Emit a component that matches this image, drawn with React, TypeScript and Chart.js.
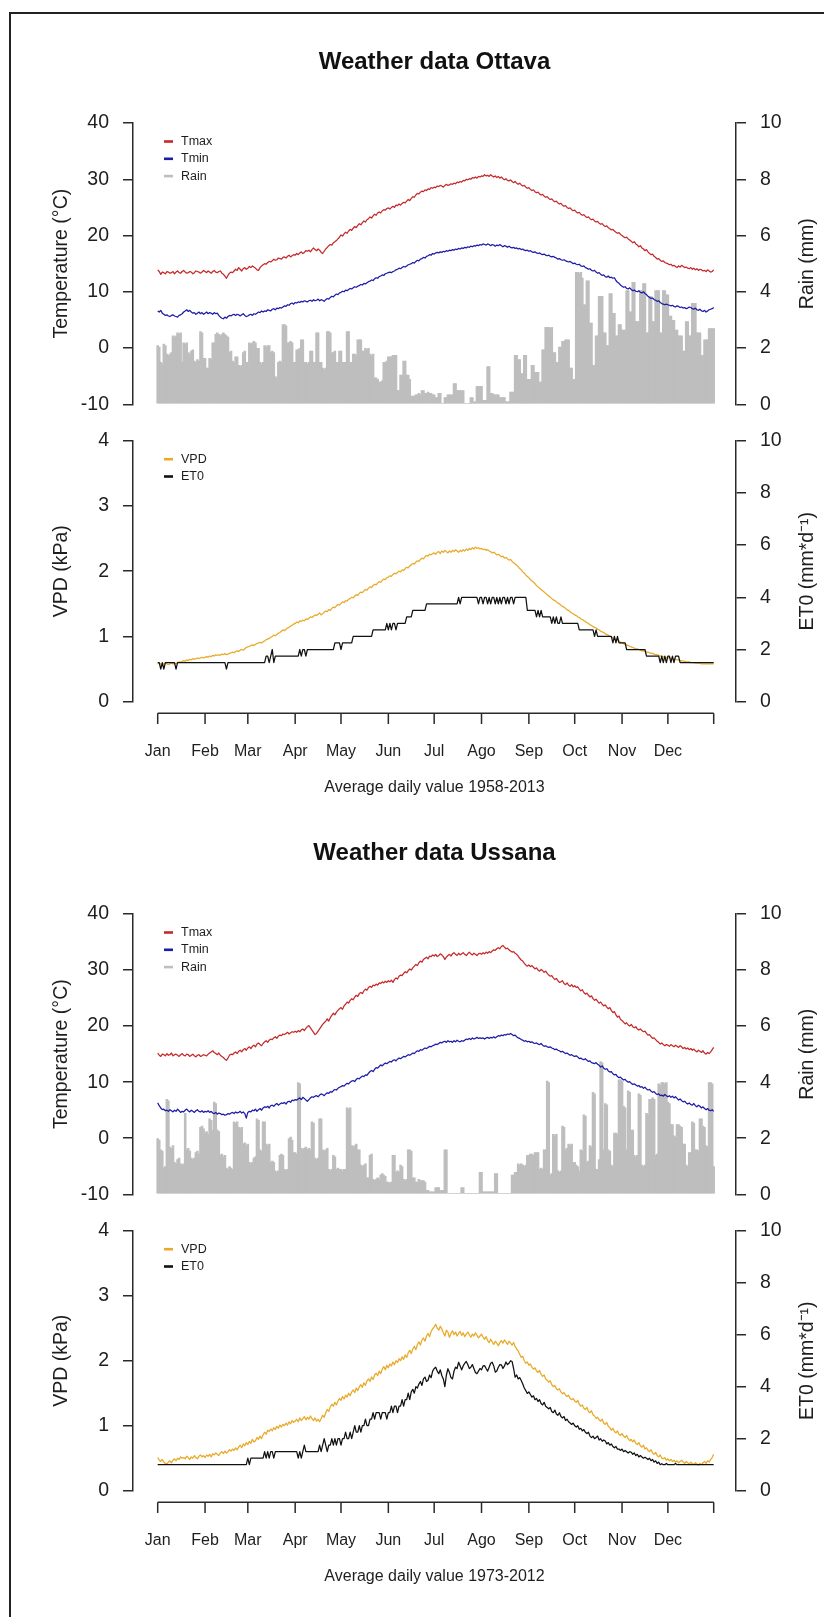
import React, { useEffect, useRef } from 'react';
import { Chart, registerables } from 'chart.js';
Chart.register(...registerables);

const FONT = "'Liberation Sans', Arial, Helvetica, sans-serif";

// ---------- categories / ticks ----------
const DAYS = Array.from({ length: 365 }, (_, i) => i + 1);
const MONTH_TICKS = [1, 32, 60, 91, 121, 152, 182, 213, 244, 274, 305, 335, 365];
const MONTH_LABELS = ['Jan', 'Feb', 'Mar', 'Apr', 'May', 'Jun', 'Jul', 'Ago', 'Sep', 'Oct', 'Nov', 'Dec', ''];
const TEMP_TICKS = [-10, 0, 10, 20, 30, 40];
const RAIN_TICKS = [0, 2, 4, 6, 8, 10];
const VPD_TICKS = [0, 1, 2, 3, 4];
const ET0_TICKS = [0, 2, 4, 6, 8, 10];

// ---------- Ottava ----------
const OTT_TMAX = [
  13.9,13.6,13.1,13.5,13.4,13.2,13.6,13.5,13.3,13.4,13.6,13.2,13.5,13.7,13.4,13.3,13.6,13.8,13.5,13.3,13.4,13.6,13.5,13.2,13.4,13.7,13.6,13.5,13.3,13.5,13.8,
  13.6,13.4,13.7,13.5,13.3,13.6,13.8,13.5,13.4,13.6,13.7,13.3,13.1,12.8,12.4,12.9,13.3,13.5,13.4,13.7,14.0,13.8,14.3,14.0,13.7,14.1,14.3,14.0,
  14.2,14.5,14.3,14.6,14.4,14.2,13.9,13.8,14.3,14.6,14.8,15.0,14.9,15.2,15.4,15.3,15.5,15.8,15.6,15.7,16.0,15.9,15.8,16.1,16.2,16.0,16.3,16.5,16.2,16.4,16.6,
  16.5,16.8,16.6,16.9,17.1,16.8,17.0,17.3,17.2,17.4,17.1,17.5,17.8,17.5,17.3,17.6,17.4,17.0,16.8,17.2,17.6,17.9,18.2,18.4,18.3,18.7,18.9,19.1,19.4,19.7,
  20.1,19.9,20.3,20.6,20.4,20.8,21.1,20.9,21.3,21.6,21.4,21.8,22.1,21.9,22.3,22.6,22.4,22.8,23.0,23.3,23.1,23.5,23.8,23.6,24.0,24.2,24.0,24.4,24.6,24.5,24.8,
  24.9,24.7,25.0,25.2,25.0,25.4,25.3,25.6,25.4,25.7,25.9,25.8,26.1,26.4,26.2,26.6,26.9,26.8,27.2,27.5,27.4,27.7,27.9,27.8,28.1,28.0,28.3,28.2,28.5,28.4,
  28.6,28.5,28.8,28.7,28.9,28.8,28.6,28.9,29.1,28.9,29.0,29.2,29.1,29.3,29.2,29.5,29.4,29.6,29.5,29.8,29.7,30.0,29.9,30.1,30.0,30.3,30.2,30.4,30.2,30.5,30.4,
  30.6,30.5,30.8,30.6,30.7,30.5,30.8,30.6,30.4,30.6,30.3,30.5,30.2,30.4,30.1,29.9,30.1,29.8,29.7,29.9,29.6,29.4,29.6,29.3,29.1,29.3,29.0,28.8,28.9,28.6,28.4,
  28.5,28.2,28.0,28.1,27.8,27.6,27.7,27.4,27.2,27.3,27.0,26.8,26.9,26.6,26.4,26.5,26.2,26.0,26.1,25.8,25.6,25.7,25.4,25.2,25.3,25.0,24.8,24.9,24.6,24.4,
  24.5,24.2,24.0,24.1,23.8,23.6,23.7,23.4,23.2,23.3,23.0,22.8,22.9,22.6,22.4,22.5,22.2,22.0,22.1,21.8,21.6,21.7,21.4,21.2,21.0,21.1,20.8,20.6,20.4,20.5,20.2,
  20.0,19.8,19.6,19.7,19.4,19.2,19.0,18.7,18.9,18.5,18.3,18.0,18.2,17.8,17.6,17.3,17.5,17.1,16.8,16.6,16.7,16.3,16.1,15.8,15.9,15.6,15.4,15.5,15.2,15.1,
  15.0,14.8,14.9,14.6,14.7,14.5,14.3,14.6,14.4,14.7,14.5,14.3,14.4,14.2,14.1,14.3,14.0,14.2,13.9,14.1,13.8,14.0,13.9,13.7,13.8,13.6,13.9,13.7,13.5,13.6,13.9,
];
const OTT_TMIN = [
  6.6,6.4,6.7,6.2,6.0,5.8,5.9,5.7,5.6,5.8,5.9,5.7,5.6,5.5,5.8,5.9,6.1,6.4,6.6,6.8,6.5,6.7,6.4,6.2,6.3,6.0,6.2,6.4,6.1,6.3,6.0,
  6.2,6.4,6.1,6.3,6.2,6.0,6.3,6.1,6.2,5.8,5.5,5.3,5.2,5.5,5.3,5.6,5.8,5.7,5.9,6.0,5.8,6.0,5.9,5.7,5.9,6.1,5.8,5.6,
  5.7,5.9,6.0,5.8,6.1,6.0,6.2,6.4,6.3,6.6,6.4,6.6,6.5,6.8,6.7,6.6,6.9,7.0,6.8,7.1,7.0,7.2,7.1,7.3,7.5,7.4,7.7,7.6,7.9,8.0,7.8,
  8.1,8.0,8.2,8.1,8.3,8.2,8.4,8.3,8.2,8.4,8.5,8.3,8.6,8.4,8.5,8.7,8.4,8.6,8.5,8.3,8.6,8.8,8.7,9.0,9.2,9.1,9.4,9.6,9.5,9.8,
  9.9,10.1,10.0,10.3,10.2,10.4,10.6,10.5,10.7,10.9,10.8,11.0,11.1,11.3,11.2,11.5,11.4,11.6,11.8,11.9,12.1,12.0,12.3,12.5,12.4,12.7,12.8,13.0,12.9,13.2,13.3,
  13.4,13.5,13.4,13.6,13.7,13.9,14.0,14.2,14.1,14.3,14.5,14.4,14.6,14.8,14.9,15.0,15.2,15.1,15.4,15.6,15.5,15.8,15.9,16.1,16.0,16.3,16.4,16.6,16.5,16.8,
  16.7,16.9,17.0,16.9,17.1,17.0,17.2,17.1,17.3,17.2,17.4,17.3,17.5,17.4,17.6,17.5,17.7,17.6,17.8,17.7,17.9,17.8,18.0,17.9,18.1,18.0,18.2,18.1,18.3,18.2,18.4,
  18.3,18.5,18.4,18.3,18.5,18.4,18.2,18.4,18.3,18.1,18.3,18.2,18.4,18.2,18.0,18.2,18.1,17.9,18.1,17.9,17.8,17.9,17.7,17.8,17.6,17.7,17.5,17.6,17.4,17.3,17.4,
  17.2,17.3,17.1,17.0,17.1,16.9,16.8,16.9,16.7,16.6,16.7,16.5,16.4,16.5,16.3,16.2,16.3,16.1,16.0,15.8,15.9,15.7,15.6,15.7,15.5,15.4,15.3,15.4,15.2,15.0,
  15.1,14.9,14.8,14.9,14.6,14.5,14.6,14.3,14.2,14.0,14.1,13.8,13.7,13.8,13.5,13.3,13.4,13.1,12.9,13.0,12.7,12.6,12.8,12.5,12.6,12.4,12.5,12.0,11.7,11.5,11.2,
  11.0,10.8,10.9,10.6,10.5,10.7,10.4,10.2,10.3,10.1,10.0,10.2,9.9,9.8,10.0,9.7,9.5,9.2,9.0,8.8,8.9,8.6,8.5,8.3,8.4,8.1,7.9,7.8,7.7,7.8,
  7.7,7.6,7.5,7.6,7.4,7.3,7.5,7.4,7.2,7.3,7.1,7.2,7.0,7.1,7.3,7.2,7.0,6.9,7.1,6.8,6.7,6.9,6.6,6.5,6.7,6.4,6.6,6.8,6.9,7.0,7.2,
];
const OTT_RAIN = [
  2.1,2.05,1.5,1.45,2.15,2.1,1.8,1.75,1.8,1.85,2.45,2.4,2.45,2.55,2.5,2.55,1.5,2.2,2.15,2.2,1.85,1.8,1.9,1.95,1.55,1.5,1.6,1.55,2.6,2.55,1.65,
  1.65,1.3,1.3,1.65,1.6,2.2,2.2,2.5,2.55,2.5,2.45,2.5,2.55,2.5,2.45,2.4,1.85,1.9,1.55,1.5,1.7,1.7,1.4,1.35,1.4,1.85,1.9,1.5,
  1.5,2.2,2.15,2.2,2.25,2.2,2.0,2.0,1.5,1.45,1.5,2.1,2.05,2.1,2.1,1.85,1.9,1.85,1.0,0.95,1.5,1.55,1.5,2.85,2.85,2.8,2.2,2.2,2.25,2.2,1.5,
  1.5,1.95,1.95,2.0,2.3,2.3,1.5,1.5,1.45,1.5,1.9,1.9,1.5,1.5,2.55,2.55,1.5,1.5,1.3,1.25,1.3,2.6,2.6,2.55,1.85,1.85,1.9,1.5,1.5,1.9,
  1.9,1.5,1.5,1.5,2.6,2.6,1.5,1.5,1.8,1.8,1.75,2.3,2.3,2.3,1.9,1.9,2.0,1.95,2.0,1.8,1.75,1.8,0.95,0.95,0.9,0.8,0.8,0.85,1.5,1.5,1.55,
  1.7,1.7,1.7,1.75,1.75,1.75,0.5,0.5,1.05,1.05,1.55,1.55,1.05,1.05,0.9,0.3,0.3,0.3,0.35,0.35,0.4,0.35,0.5,0.5,0.4,0.4,0.45,0.4,0.4,0.35,
  0.35,0.25,0.25,0.4,0.4,0.05,0.05,0.25,0.25,0.35,0.35,0.35,0.35,0.75,0.75,0.5,0.5,0.5,0.5,0.5,0.05,0.05,0.05,0.05,0.25,0.25,0.1,0.1,0.65,0.65,0.65,
  0.65,0.15,0.15,0.15,1.35,1.35,0.4,0.4,0.35,0.35,0.35,0.35,0.25,0.25,0.25,0.25,0.1,0.1,0.1,0.45,0.45,0.45,1.75,1.75,1.6,1.6,1.1,1.1,1.75,1.75,0.9,
  0.9,0.9,1.4,1.4,1.15,1.15,1.15,0.8,0.8,1.95,1.95,2.75,2.75,2.75,2.7,2.75,1.85,1.85,1.5,1.5,2.05,2.05,2.25,2.25,2.3,2.3,2.3,1.3,1.3,0.9,
  0.9,4.7,4.7,4.65,4.7,4.5,3.55,3.55,4.4,4.4,2.9,2.9,1.4,1.4,2.45,2.45,3.85,3.85,3.85,2.55,2.55,2.1,2.1,3.95,3.95,3.25,3.25,2.45,2.45,2.85,2.85,
  2.65,2.65,2.65,4.05,4.05,3.3,3.3,4.35,4.35,2.95,2.95,2.95,4.05,4.05,4.3,4.3,2.55,2.55,3.85,3.85,2.95,2.95,4.05,4.05,4.05,2.55,2.55,4.05,4.05,3.9,
  3.9,3.15,3.15,3.0,3.0,2.65,2.65,2.45,2.45,2.45,1.9,1.9,2.95,2.95,2.45,2.45,3.6,3.6,3.6,2.55,2.55,2.55,1.75,1.75,2.3,2.3,2.3,2.7,2.7,2.7,2.7,
];
const OTT_VPD = [
  0.58,0.59,0.58,0.57,0.58,0.59,0.58,0.57,0.58,0.59,0.58,0.59,0.58,0.60,0.61,0.60,0.62,0.63,0.62,0.64,0.63,0.65,0.64,0.66,0.65,0.66,0.67,0.66,0.67,0.68,0.67,
  0.68,0.69,0.68,0.70,0.69,0.71,0.70,0.72,0.71,0.72,0.71,0.73,0.72,0.74,0.72,0.73,0.74,0.75,0.76,0.75,0.77,0.78,0.77,0.79,0.80,0.79,0.81,0.83,
  0.84,0.85,0.86,0.87,0.86,0.88,0.89,0.90,0.91,0.90,0.92,0.93,0.95,0.96,0.97,0.99,1.00,1.02,1.01,1.03,1.05,1.06,1.08,1.10,1.09,1.11,1.13,1.14,1.16,1.17,1.19,
  1.20,1.22,1.21,1.24,1.23,1.25,1.24,1.27,1.26,1.28,1.30,1.29,1.31,1.33,1.32,1.34,1.36,1.33,1.35,1.37,1.39,1.38,1.41,1.40,1.43,1.45,1.44,1.47,1.49,1.48,
  1.51,1.53,1.52,1.55,1.54,1.57,1.58,1.60,1.59,1.62,1.64,1.63,1.66,1.68,1.67,1.70,1.72,1.71,1.74,1.76,1.75,1.78,1.80,1.79,1.82,1.84,1.83,1.86,1.88,1.87,1.90,
  1.91,1.93,1.92,1.95,1.97,1.96,1.98,2.00,1.99,2.02,2.01,2.04,2.06,2.05,2.08,2.10,2.12,2.11,2.14,2.16,2.15,2.18,2.20,2.19,2.22,2.24,2.23,2.26,2.25,2.27,
  2.28,2.26,2.29,2.30,2.27,2.31,2.29,2.32,2.30,2.28,2.31,2.29,2.32,2.30,2.33,2.31,2.29,2.32,2.30,2.33,2.31,2.34,2.32,2.35,2.33,2.36,2.34,2.37,2.35,2.36,2.34,
  2.35,2.33,2.34,2.32,2.33,2.31,2.30,2.28,2.29,2.27,2.25,2.26,2.24,2.22,2.23,2.20,2.21,2.19,2.17,2.18,2.15,2.13,2.11,2.09,2.07,2.04,2.02,1.99,1.97,1.94,1.92,
  1.90,1.87,1.85,1.83,1.81,1.78,1.76,1.74,1.72,1.70,1.68,1.66,1.64,1.62,1.60,1.58,1.56,1.55,1.53,1.51,1.50,1.48,1.46,1.45,1.43,1.41,1.40,1.38,1.36,1.35,
  1.33,1.32,1.30,1.29,1.27,1.26,1.24,1.23,1.21,1.20,1.18,1.17,1.15,1.14,1.13,1.11,1.10,1.08,1.07,1.06,1.04,1.03,1.02,1.00,0.99,0.98,0.96,0.95,0.94,0.93,0.91,
  0.90,0.89,0.88,0.87,0.86,0.85,0.84,0.83,0.82,0.81,0.81,0.80,0.79,0.78,0.78,0.77,0.76,0.76,0.75,0.74,0.74,0.73,0.72,0.72,0.71,0.70,0.70,0.69,0.68,0.68,
  0.67,0.67,0.66,0.66,0.65,0.65,0.64,0.64,0.63,0.63,0.62,0.62,0.61,0.61,0.61,0.60,0.60,0.60,0.59,0.59,0.59,0.59,0.58,0.58,0.58,0.58,0.58,0.58,0.58,0.58,0.58,
];
const OTT_ET0 = [
  1.5,1.5,1.25,1.5,1.25,1.5,1.5,1.5,1.5,1.5,1.5,1.5,1.25,1.5,1.5,1.5,1.5,1.5,1.5,1.5,1.5,1.5,1.5,1.5,1.5,1.5,1.5,1.5,1.5,1.5,1.5,
  1.5,1.5,1.5,1.5,1.5,1.5,1.5,1.5,1.5,1.5,1.5,1.5,1.5,1.5,1.25,1.5,1.5,1.5,1.5,1.5,1.5,1.5,1.5,1.5,1.5,1.5,1.5,1.5,
  1.5,1.5,1.5,1.5,1.5,1.5,1.5,1.5,1.5,1.5,1.5,1.5,1.75,1.75,1.5,1.75,2.0,1.5,1.75,1.75,1.75,1.75,1.75,1.75,1.75,1.75,1.75,1.75,1.75,1.75,1.75,
  1.75,1.75,1.75,2.0,1.75,2.0,2.0,1.75,2.0,2.0,2.0,2.0,2.0,2.0,2.0,2.0,2.0,2.0,2.0,2.0,2.0,2.0,2.0,2.0,2.0,2.0,2.25,2.25,2.25,2.25,
  2.0,2.25,2.25,2.25,2.25,2.25,2.25,2.25,2.5,2.5,2.5,2.5,2.5,2.5,2.5,2.5,2.5,2.5,2.5,2.5,2.5,2.75,2.75,2.75,2.75,2.75,2.75,2.75,2.75,2.75,3.0,
  2.75,3.0,2.75,3.0,3.0,2.75,3.0,3.0,3.0,3.0,3.0,3.0,3.25,3.25,3.25,3.25,3.5,3.5,3.5,3.5,3.5,3.5,3.5,3.5,3.5,3.75,3.75,3.75,3.75,3.75,
  3.75,3.75,3.75,3.75,3.75,3.75,3.75,3.75,3.75,3.75,3.75,3.75,3.75,3.75,3.75,3.75,4.0,3.75,4.0,4.0,4.0,4.0,4.0,4.0,4.0,4.0,4.0,4.0,4.0,3.75,4.0,
  4.0,3.75,4.0,4.0,3.75,4.0,3.75,4.0,4.0,3.75,4.0,3.75,4.0,3.75,4.0,4.0,3.75,4.0,3.75,4.0,4.0,3.75,4.0,4.0,4.0,4.0,4.0,4.0,4.0,4.0,3.5,
  3.5,3.5,3.5,3.5,3.5,3.25,3.5,3.25,3.5,3.25,3.25,3.25,3.25,3.25,3.25,3.0,3.25,3.0,3.25,3.0,3.0,3.25,3.0,3.0,3.0,3.0,3.0,3.0,3.0,3.0,
  3.0,3.0,3.0,2.75,2.75,2.75,2.75,2.75,2.75,2.75,2.75,2.75,2.75,2.5,2.75,2.5,2.5,2.5,2.5,2.5,2.5,2.5,2.5,2.5,2.5,2.25,2.5,2.25,2.5,2.25,2.25,
  2.25,2.25,2.25,2.0,2.0,2.0,2.0,2.0,2.0,2.0,2.0,2.0,2.0,2.0,2.0,2.0,1.75,1.75,1.75,1.75,1.75,1.75,1.75,1.75,1.75,1.5,1.75,1.5,1.75,1.5,
  1.75,1.75,1.5,1.75,1.5,1.75,1.75,1.75,1.5,1.5,1.5,1.5,1.5,1.5,1.5,1.5,1.5,1.5,1.5,1.5,1.5,1.5,1.5,1.5,1.5,1.5,1.5,1.5,1.5,1.5,1.5,
];

// ---------- Ussana ----------
const USS_TMAX = [
  15.2,14.8,14.6,15.0,14.9,14.7,15.1,14.8,14.9,15.2,14.7,14.9,15.0,14.8,14.6,14.9,15.1,14.8,14.7,15.0,14.9,14.6,14.8,15.0,14.7,14.5,14.8,14.9,14.6,14.7,14.9,
  14.8,14.7,15.0,15.2,15.4,15.6,15.3,15.1,14.9,15.2,14.8,14.6,14.4,14.1,13.9,14.3,14.8,15.0,14.9,15.2,15.4,15.1,15.5,15.7,15.4,15.8,16.0,15.7,
  16.1,16.3,16.0,16.4,16.6,16.3,16.8,17.0,16.7,16.5,16.9,17.2,17.4,17.1,17.5,17.7,17.6,17.9,18.1,17.8,18.2,18.4,18.3,18.6,18.5,18.7,18.9,18.6,18.8,19.0,18.9,
  19.1,18.9,19.2,19.0,19.3,19.5,19.2,19.6,19.9,20.1,19.7,19.3,18.9,18.5,18.7,19.1,19.5,19.9,20.3,20.6,20.9,21.3,20.9,21.5,21.9,22.3,22.0,22.5,22.8,23.1,
  23.3,23.0,23.6,23.9,24.3,24.1,24.6,24.9,24.7,25.2,25.5,25.3,25.8,26.0,25.8,26.3,26.6,26.4,26.9,27.1,26.9,27.3,27.2,27.5,27.3,27.7,27.6,27.9,27.7,28.0,27.8,
  28.1,27.9,28.2,27.8,28.3,28.6,28.4,28.9,29.1,29.0,29.4,29.7,29.5,29.9,30.2,30.0,30.4,30.7,31.0,30.8,31.3,31.6,31.4,31.9,32.1,32.3,32.0,32.5,32.4,32.7,
  32.5,32.8,32.4,32.6,32.9,32.7,32.4,31.9,32.3,32.6,32.8,32.5,32.9,33.1,32.8,32.6,33.0,32.7,32.9,33.1,32.8,32.6,32.9,33.2,32.9,32.7,33.0,32.8,32.6,32.9,33.0,
  32.8,33.1,32.9,33.2,33.0,33.3,33.1,33.4,33.6,33.5,33.8,34.0,33.8,34.2,34.4,34.1,33.8,33.9,33.6,33.4,33.2,33.3,33.0,32.8,32.5,32.1,31.8,31.6,31.2,30.9,30.7,
  30.9,30.6,30.8,30.5,30.2,30.4,30.0,29.8,30.1,29.9,29.6,29.8,29.4,29.1,28.9,29.0,28.6,28.3,28.5,28.1,27.8,27.9,28.1,27.6,27.4,27.7,27.3,27.1,27.4,27.0,
  27.2,26.9,27.0,26.6,26.3,26.5,26.0,25.7,25.9,25.5,25.2,25.4,24.9,24.6,24.8,24.4,24.1,24.3,23.9,23.6,23.8,23.4,23.1,23.3,22.8,22.4,22.6,22.0,21.6,21.8,21.2,
  21.0,20.7,20.4,20.6,20.2,20.0,20.3,19.9,19.7,19.9,19.5,19.3,19.5,19.2,19.0,19.1,18.7,18.4,18.5,18.1,17.8,17.9,17.6,17.3,17.1,16.8,17.0,16.7,16.5,16.7,
  16.6,16.4,16.7,16.5,16.3,16.6,16.4,16.2,16.5,16.3,16.0,16.2,15.9,16.1,15.8,16.0,15.7,15.9,15.6,15.4,15.7,15.5,15.3,15.6,15.2,15.0,15.3,15.1,15.4,15.8,16.2,
];
const USS_TMIN = [
  6.3,5.8,5.4,5.1,5.2,4.9,5.0,4.8,5.1,4.9,4.7,5.0,4.8,5.2,4.9,4.6,4.8,4.7,5.0,5.2,4.9,4.7,5.0,4.8,4.6,4.9,5.1,4.8,4.7,4.9,4.6,
  4.8,4.7,4.9,4.6,4.8,4.5,4.4,4.6,4.3,4.5,4.4,4.2,4.3,4.1,4.2,4.4,4.3,4.5,4.6,4.4,4.7,4.5,4.6,4.8,4.5,4.7,4.4,3.6,
  4.6,4.8,4.7,5.0,4.9,5.2,4.8,5.1,5.3,5.0,5.4,5.6,5.5,5.7,5.4,5.8,5.9,5.7,6.0,6.2,5.9,6.1,6.3,6.2,6.4,6.1,6.5,6.6,6.4,6.8,6.7,
  6.9,6.8,7.0,7.2,6.9,7.3,7.1,6.8,6.6,6.9,7.2,7.4,7.3,7.5,7.6,7.4,7.7,7.9,7.8,7.6,7.9,8.1,8.0,8.3,8.2,8.5,8.7,8.6,8.9,9.1,
  9.2,9.4,9.3,9.6,9.8,9.7,10.0,10.2,10.3,10.1,10.5,10.7,10.6,10.9,11.1,11.0,11.3,11.2,11.6,11.9,12.1,11.9,12.3,12.6,12.5,12.8,13.1,12.9,13.2,13.4,13.3,
  13.5,13.7,13.6,13.9,14.0,13.8,14.1,14.3,14.2,14.4,14.6,14.5,14.7,14.9,14.8,15.0,15.2,15.1,15.4,15.6,15.5,15.8,15.7,15.9,16.1,16.0,16.2,16.4,16.3,16.5,
  16.6,16.8,16.7,16.9,17.1,17.0,17.2,17.3,17.1,17.4,17.2,17.3,17.1,17.4,17.2,17.5,17.3,17.2,17.4,17.3,17.5,17.7,17.6,17.8,17.6,17.9,17.7,17.8,18.0,17.8,17.9,
  17.8,17.9,17.7,17.9,18.0,17.8,18.0,17.9,18.1,17.9,18.1,18.3,18.2,18.4,18.3,18.5,18.4,18.6,18.5,18.7,18.5,18.3,18.4,18.1,17.9,17.8,17.6,17.5,17.3,17.4,17.2,
  17.3,17.1,17.2,17.0,16.9,17.0,16.8,16.7,16.9,16.6,16.4,16.5,16.3,16.2,16.3,16.1,16.0,15.8,15.9,15.7,15.6,15.4,15.5,15.3,15.1,15.2,15.0,14.8,14.9,14.7,
  14.6,14.7,14.5,14.2,14.3,14.1,14.0,14.2,13.9,13.7,13.8,13.5,13.4,13.3,13.5,13.2,13.0,12.7,12.9,12.5,12.3,12.4,12.0,11.8,11.9,11.5,11.3,11.4,11.0,10.8,10.9,
  10.6,10.4,10.5,10.2,10.0,10.1,9.8,9.6,9.7,9.5,9.3,9.4,9.1,9.2,8.9,9.1,8.8,8.6,8.7,8.4,8.2,8.3,8.0,7.8,7.9,7.6,7.7,7.5,7.8,7.6,
  7.4,7.6,7.3,7.5,7.2,7.4,7.1,6.8,7.0,6.7,6.5,6.6,6.3,6.1,6.3,6.0,5.9,6.2,5.8,5.6,5.9,5.7,5.4,5.6,5.3,5.1,5.3,5.0,4.9,5.1,4.8,
];
const USS_RAIN = [
  2.0,1.95,1.6,1.55,0.95,1.0,3.4,3.35,1.7,1.65,1.75,1.15,1.1,1.25,1.3,1.1,1.05,1.1,2.9,1.6,1.65,1.55,1.3,1.25,1.3,1.5,1.55,1.45,2.4,2.45,2.35,
  2.2,2.25,2.15,2.7,2.65,2.3,3.3,3.25,2.3,2.25,1.4,1.45,1.35,1.4,0.95,0.9,1.0,0.95,0.9,2.6,2.55,2.6,2.4,2.35,2.4,1.8,1.85,1.75,
  1.8,1.15,1.1,1.15,1.3,1.35,2.7,2.65,1.6,1.55,2.6,2.6,1.8,1.75,1.8,1.15,1.2,1.15,0.85,0.8,0.85,1.4,1.45,1.4,0.9,0.85,0.9,2.0,2.05,1.95,1.5,
  1.5,1.45,4.0,3.95,1.65,1.6,1.65,1.7,1.6,1.65,1.6,2.6,2.55,1.3,1.25,1.3,2.7,2.7,1.6,1.55,1.6,1.65,0.9,0.85,0.9,1.4,1.35,0.9,0.95,0.9,
  0.9,0.85,0.9,0.9,3.1,3.05,3.1,1.75,1.7,1.75,1.8,1.6,1.6,1.05,1.0,1.05,1.1,0.6,0.6,1.4,1.45,0.55,0.5,0.55,0.6,0.55,0.7,0.75,0.7,0.65,0.45,
  0.45,0.4,0.45,1.4,1.4,0.8,0.85,0.8,1.05,1.0,0.55,0.5,0.55,1.6,1.6,1.55,0.6,0.6,0.45,0.45,0.55,0.5,0.5,0.5,0.45,0.15,0.15,0.1,0.1,0.1,
  0.1,0.25,0.25,0.25,0.15,0.15,0.15,1.6,1.6,0.05,0.05,0.05,0.05,0.05,0.05,0.05,0.05,0.05,0.25,0.25,0.05,0.05,0.05,0.05,0.05,0.05,0.05,0.05,0.05,0.05,0.8,
  0.8,0.1,0.1,0.1,0.1,0.1,0.1,0.1,0.1,0.75,0.75,0.05,0.05,0.05,0.05,0.05,0.05,0.05,0.05,0.05,0.7,0.7,0.8,0.8,1.1,1.05,1.1,1.05,1.0,1.05,1.4,
  1.4,1.45,1.45,1.4,1.5,1.5,1.5,0.9,0.95,0.9,1.6,1.6,4.05,4.0,0.7,0.75,2.15,2.1,2.15,0.85,0.8,0.85,2.45,2.4,1.6,1.65,1.8,1.75,1.8,1.15,
  1.15,1.05,1.0,0.85,1.6,1.55,2.85,2.8,1.15,1.2,1.75,1.7,3.65,3.6,0.9,0.9,1.25,4.75,4.7,1.6,3.25,3.2,1.6,1.55,1.05,1.0,2.2,2.2,2.15,4.1,4.1,
  4.05,3.15,3.1,1.6,3.7,3.65,2.3,2.3,1.4,1.35,1.4,3.6,3.55,1.05,1.0,1.05,2.9,2.85,3.4,3.4,3.45,3.4,1.4,1.45,3.95,3.9,4.0,4.0,3.95,4.0,
  3.3,3.25,2.5,2.5,2.1,2.05,2.5,2.5,2.45,2.4,1.8,1.8,1.05,1.0,1.5,1.5,2.6,2.55,1.6,1.6,1.55,2.7,2.7,2.45,2.4,1.75,1.7,4.0,4.0,3.95,1.0,
];
const USS_VPD = [
  0.51,0.47,0.45,0.48,0.44,0.42,0.41,0.44,0.46,0.43,0.47,0.49,0.46,0.50,0.48,0.52,0.50,0.51,0.49,0.53,0.51,0.48,0.52,0.50,0.54,0.51,0.49,0.53,0.55,0.52,0.54,
  0.51,0.55,0.53,0.56,0.52,0.57,0.55,0.58,0.56,0.54,0.58,0.60,0.57,0.61,0.58,0.60,0.63,0.61,0.64,0.62,0.66,0.63,0.67,0.70,0.66,0.72,0.69,0.74,
  0.71,0.76,0.73,0.79,0.75,0.77,0.82,0.79,0.84,0.80,0.86,0.90,0.87,0.93,0.91,0.95,0.92,0.97,0.94,0.99,0.96,1.01,0.98,1.02,1.00,1.04,1.01,1.06,1.03,1.08,1.05,
  1.07,1.10,1.06,1.12,1.08,1.11,1.14,1.09,1.13,1.10,1.15,1.11,1.08,1.12,1.07,1.10,1.06,1.11,1.16,1.13,1.20,1.25,1.22,1.29,1.33,1.30,1.36,1.32,1.38,1.42,
  1.39,1.45,1.41,1.47,1.44,1.50,1.46,1.52,1.55,1.51,1.58,1.54,1.60,1.63,1.59,1.66,1.62,1.69,1.72,1.68,1.75,1.71,1.78,1.81,1.77,1.84,1.80,1.87,1.91,1.86,1.93,
  1.89,1.95,1.92,1.98,1.94,2.00,1.97,2.03,2.00,2.06,2.02,2.09,2.05,2.12,2.16,2.11,2.18,2.22,2.17,2.25,2.29,2.24,2.32,2.35,2.30,2.38,2.42,2.37,2.45,2.49,
  2.52,2.56,2.50,2.47,2.53,2.49,2.43,2.38,2.47,2.44,2.36,2.42,2.46,2.40,2.44,2.38,2.42,2.45,2.39,2.43,2.37,2.41,2.44,2.40,2.36,2.41,2.38,2.43,2.39,2.35,2.38,
  2.41,2.36,2.33,2.37,2.31,2.28,2.33,2.29,2.25,2.30,2.27,2.23,2.28,2.31,2.27,2.32,2.29,2.25,2.30,2.27,2.24,2.28,2.22,2.18,2.15,2.10,2.05,2.07,2.00,1.96,1.98,
  1.93,1.95,1.90,1.87,1.89,1.84,1.82,1.85,1.79,1.76,1.78,1.72,1.70,1.67,1.69,1.63,1.60,1.62,1.57,1.55,1.57,1.52,1.49,1.51,1.47,1.45,1.47,1.42,1.40,1.42,
  1.38,1.36,1.39,1.33,1.30,1.32,1.27,1.25,1.28,1.22,1.20,1.23,1.17,1.15,1.11,1.13,1.09,1.07,1.10,1.04,1.02,1.05,0.99,0.97,0.93,0.96,0.91,0.89,0.92,0.87,0.85,
  0.88,0.84,0.82,0.85,0.80,0.77,0.79,0.75,0.78,0.73,0.71,0.74,0.69,0.67,0.70,0.64,0.66,0.62,0.60,0.63,0.58,0.56,0.59,0.54,0.52,0.55,0.50,0.49,0.51,0.47,
  0.49,0.46,0.48,0.45,0.47,0.44,0.46,0.43,0.45,0.47,0.44,0.42,0.45,0.43,0.41,0.44,0.42,0.40,0.43,0.41,0.39,0.42,0.40,0.43,0.45,0.42,0.46,0.44,0.48,0.51,0.56,
];
const USS_ET0 = [
  1.0,1.0,1.0,1.0,1.0,1.0,1.0,1.0,1.0,1.0,1.0,1.0,1.0,1.0,1.0,1.0,1.0,1.0,1.0,1.0,1.0,1.0,1.0,1.0,1.0,1.0,1.0,1.0,1.0,1.0,1.0,
  1.0,1.0,1.0,1.0,1.0,1.0,1.0,1.0,1.0,1.0,1.0,1.0,1.0,1.0,1.0,1.0,1.0,1.0,1.0,1.0,1.0,1.0,1.0,1.0,1.0,1.0,1.0,1.0,
  1.25,1.0,1.25,1.25,1.25,1.25,1.25,1.25,1.25,1.25,1.25,1.5,1.25,1.5,1.25,1.5,1.5,1.25,1.5,1.5,1.5,1.5,1.5,1.5,1.5,1.5,1.5,1.5,1.5,1.5,1.5,
  1.5,1.5,1.25,1.5,1.25,1.5,1.75,1.5,1.5,1.5,1.5,1.5,1.5,1.5,1.5,1.5,1.75,1.5,1.75,2.0,1.75,1.5,1.75,1.75,2.0,1.75,2.0,1.75,2.0,2.0,
  1.75,2.0,2.0,2.25,2.0,2.0,2.25,2.0,2.25,2.5,2.25,2.25,2.5,2.25,2.5,2.5,2.75,2.5,2.5,2.75,2.75,3.0,2.75,3.0,3.0,3.0,2.75,3.0,3.0,3.0,2.75,
  3.0,3.0,3.25,3.0,3.25,3.25,3.0,3.25,3.25,3.5,3.25,3.5,3.5,3.75,3.5,3.8,3.9,3.75,4.0,3.95,4.1,4.2,4.05,4.3,4.37,4.2,4.25,4.45,4.35,4.6,
  4.7,4.75,4.6,4.5,4.65,4.43,4.3,4.0,4.45,4.69,4.55,4.35,4.3,4.6,4.75,4.7,4.94,4.8,4.65,4.8,4.9,4.97,4.85,4.7,4.75,4.85,4.7,4.55,4.5,4.6,4.7,
  4.65,4.8,4.81,4.7,4.6,4.75,4.9,4.94,4.8,4.56,4.6,4.75,4.85,4.84,4.7,4.8,4.95,4.85,4.9,5.0,4.97,4.7,4.37,4.45,4.3,4.35,4.24,4.1,3.95,3.85,3.74,
  3.8,3.7,3.6,3.65,3.5,3.55,3.43,3.5,3.35,3.3,3.4,3.25,3.2,3.15,3.2,3.05,3.0,3.1,2.95,2.9,3.0,2.85,2.8,2.85,2.7,2.75,2.65,2.6,2.55,2.6,
  2.5,2.45,2.5,2.36,2.4,2.3,2.35,2.25,2.2,2.25,2.1,2.04,2.1,2.0,2.05,2.1,1.95,2.0,1.9,1.95,1.91,1.8,1.85,1.75,1.8,1.7,1.65,1.7,1.6,1.6,1.55,
  1.6,1.5,1.55,1.5,1.45,1.5,1.48,1.4,1.45,1.35,1.4,1.3,1.35,1.3,1.25,1.29,1.25,1.2,1.25,1.15,1.2,1.1,1.15,1.05,1.1,1.0,1.04,1.0,1.0,1.05,
  1.0,1.0,1.0,1.0,1.0,1.05,1.0,1.0,1.0,1.0,1.0,1.0,1.0,1.0,1.0,1.0,1.0,1.0,1.0,1.0,1.0,1.0,1.0,1.0,1.0,1.0,1.0,1.0,1.0,1.0,1.0,
];

// ---------- styles ----------
const C_TMAX = 'rgb(196,42,42)';
const C_TMIN = 'rgb(28,28,165)';
const C_RAIN = 'rgb(190,190,190)';
const C_VPD = 'rgb(232,170,40)';
const C_ET0 = 'rgb(17,17,17)';
const AXIS = '#2a2a2a';
const TXT = '#1e1e1e';
const X_MIN = -15.17;
const X_MAX = 379.6;

const pts = (arr: number[]) => arr.map((y, i) => ({ x: DAYS[i], y }));

const rStyle = {
  id: 'rStyle',
  afterDraw(chart: any, _args: any, opts: any) {
    const ctx = chart.ctx;
    const area = chart.chartArea;
    ctx.save();
    if (opts.legend) {
      ctx.font = `12.5px ${FONT}`;
      ctx.textBaseline = 'middle';
      ctx.textAlign = 'left';
      chart.data.datasets.forEach((d: any, i: number) => {
        const y = area.top + 18.5 + i * 17.3;
        ctx.strokeStyle = d.type === 'bar' ? d.backgroundColor : d.borderColor;
        ctx.lineWidth = 2.6;
        ctx.beginPath();
        ctx.moveTo(area.left + 31, y);
        ctx.lineTo(area.left + 40, y);
        ctx.stroke();
        ctx.fillStyle = TXT;
        ctx.fillText(d.label, area.left + 48, y);
      });
    }
    if (opts.rightTitle) {
      const s = chart.scales[opts.rightScale];
      ctx.save();
      ctx.translate(s.left + 72, (area.top + area.bottom) / 2);
      ctx.rotate(-Math.PI / 2);
      ctx.font = `19.5px ${FONT}`;
      ctx.textAlign = 'center';
      ctx.textBaseline = 'middle';
      ctx.fillStyle = TXT;
      ctx.fillText(opts.rightTitle, 0, 0);
      ctx.restore();
    }
    if (opts.xAxis) {
      const xs = chart.scales.x;
      const y0 = area.bottom + 11.6;
      ctx.strokeStyle = AXIS;
      ctx.lineWidth = 1.5;
      ctx.beginPath();
      ctx.moveTo(xs.getPixelForValue(MONTH_TICKS[0]), y0);
      ctx.lineTo(xs.getPixelForValue(MONTH_TICKS[MONTH_TICKS.length - 1]), y0);
      MONTH_TICKS.forEach((v) => {
        const px = xs.getPixelForValue(v);
        ctx.moveTo(px, y0);
        ctx.lineTo(px, y0 + 10.7);
      });
      ctx.stroke();
    }
    ctx.restore();
  },
};

function yScale(position: string, min: number, max: number, tickVals: number[], title?: string) {
  return {
    type: 'linear',
    position,
    min,
    max,
    bounds: 'data',
    afterBuildTicks: (s: any) => {
      s.ticks = tickVals.map((v) => ({ value: v }));
    },
    afterFit: (s: any) => {
      s.width = position === 'left' ? 133 : 88;
    },
    grid: { display: true, drawOnChartArea: false, drawTicks: true, tickLength: 10, color: AXIS, lineWidth: 1.5 },
    border: { display: true, color: AXIS, width: 1.5 },
    ticks: { padding: 14, color: TXT, font: { family: FONT, size: 19.5 } },
    title: title
      ? { display: true, text: title, color: TXT, font: { family: FONT, size: 19.5 }, padding: { top: 50.3, bottom: 0 } }
      : { display: false },
  };
}

const xHidden = { type: 'linear', min: X_MIN, max: X_MAX, bounds: 'data', offset: false, display: false };

function xBottom(sub: string) {
  return {
    type: 'linear',
    position: 'bottom',
    min: X_MIN,
    max: X_MAX,
    bounds: 'data',
    offset: false,
    afterBuildTicks: (s: any) => {
      s.ticks = MONTH_TICKS.map((v) => ({ value: v }));
    },
    afterFit: (s: any) => {
      s.height = 100;
    },
    grid: { display: false, drawTicks: false },
    border: { display: false },
    ticks: {
      autoSkip: false,
      maxRotation: 0,
      minRotation: 0,
      padding: 40,
      color: TXT,
      font: { family: FONT, size: 16 },
      callback: (v: any) => {
        const i = MONTH_TICKS.indexOf(v);
        return i >= 0 ? MONTH_LABELS[i] : '';
      },
    },
    title: { display: true, text: sub, color: TXT, font: { family: FONT, size: 16 }, padding: { top: 0, bottom: 4.5 } },
  };
}

const lineDs = (label: string, data: number[], color: string, axis: string, order: number) => ({
  type: 'line',
  label,
  data: pts(data),
  borderColor: color,
  backgroundColor: color,
  borderWidth: 1.25,
  pointRadius: 0,
  tension: 0,
  fill: false,
  borderJoinStyle: 'round',
  yAxisID: axis,
  order,
});

function tempConfig(title: string, tmax: number[], tmin: number[], rain: number[], padTitleTop: number, padTitleBottom: number, padBottom: number) {
  return {
    type: 'line',
    data: {
      datasets: [
        lineDs('Tmax', tmax, C_TMAX, 'yT', 0),
        lineDs('Tmin', tmin, C_TMIN, 'yT', 0),
        {
          type: 'bar',
          label: 'Rain',
          data: pts(rain),
          backgroundColor: C_RAIN,
          borderColor: C_RAIN,
          borderWidth: 0,
          barThickness: 2.6,
          inflateAmount: 0,
          yAxisID: 'yR',
          order: 1,
        },
      ],
    },
    options: {
      responsive: false,
      maintainAspectRatio: false,
      animation: false,
      events: [],
      layout: { padding: { left: 0, right: 0, top: 0, bottom: padBottom } },
      plugins: {
        legend: { display: false },
        tooltip: { enabled: false },
        title: {
          display: true,
          text: title,
          fullSize: false,
          color: '#111',
          font: { family: FONT, size: 24, weight: 'bold' },
          padding: { top: padTitleTop, bottom: padTitleBottom },
        },
        rStyle: { legend: true, rightTitle: 'Rain (mm)', rightScale: 'yR', xAxis: false },
      },
      scales: {
        x: xHidden,
        yT: yScale('left', -10, 40, TEMP_TICKS, 'Temperature (°C)'),
        yR: yScale('right', 0, 10, RAIN_TICKS),
      },
    },
    plugins: [rStyle],
  };
}

function vpdConfig(sub: string, vpd: number[], et0: number[], padTop: number, padBottom: number) {
  return {
    type: 'line',
    data: {
      datasets: [lineDs('VPD', vpd, C_VPD, 'yV', 1), lineDs('ET0', et0, C_ET0, 'yE', 0)],
    },
    options: {
      responsive: false,
      maintainAspectRatio: false,
      animation: false,
      events: [],
      layout: { padding: { left: 0, right: 0, top: padTop, bottom: padBottom } },
      plugins: {
        legend: { display: false },
        tooltip: { enabled: false },
        title: { display: false },
        rStyle: { legend: true, rightTitle: 'ET0 (mm*d\u207B\u00B9)', rightScale: 'yE', xAxis: true },
      },
      scales: {
        x: xBottom(sub),
        yV: yScale('left', 0, 4, VPD_TICKS, 'VPD (kPa)'),
        yE: yScale('right', 0, 10, ET0_TICKS),
      },
    },
    plugins: [rStyle],
  };
}

function ChartCanvas({ top, height, build }: { top: number; height: number; build: () => any }) {
  const ref = useRef<HTMLCanvasElement | null>(null);
  useEffect(() => {
    const chart = new Chart(ref.current as HTMLCanvasElement, build() as any);
    return () => chart.destroy();
  }, []);
  return (
    <canvas
      ref={ref}
      width={824}
      height={height}
      style={{ position: 'absolute', left: 0, top, width: 824, height, display: 'block' }}
    />
  );
}

export default function App() {
  return (
    <div style={{ position: 'absolute', left: 0, top: 0, width: 824, height: 1617, background: '#fff', overflow: 'hidden' }}>
      <div
        style={{
          position: 'absolute',
          left: 9,
          top: 12,
          width: 840,
          height: 1640,
          borderLeft: '2px solid #222',
          borderTop: '2px solid #222',
        }}
      />
      <ChartCanvas top={0} height={430} build={() => tempConfig('Weather data Ottava', OTT_TMAX, OTT_TMIN, OTT_RAIN, 48.1, 46.1, 20)} />
      <ChartCanvas top={415} height={395} build={() => vpdConfig('Average daily value 1958-2013', OTT_VPD, OTT_ET0, 22, 8.3)} />
      <ChartCanvas top={800} height={420} build={() => tempConfig('Weather data Ussana', USS_TMAX, USS_TMIN, USS_RAIN, 38.9, 46.3, 20.7)} />
      <ChartCanvas top={1205} height={400} build={() => vpdConfig('Average daily value 1973-2012', USS_VPD, USS_ET0, 21, 14.3)} />
    </div>
  );
}
